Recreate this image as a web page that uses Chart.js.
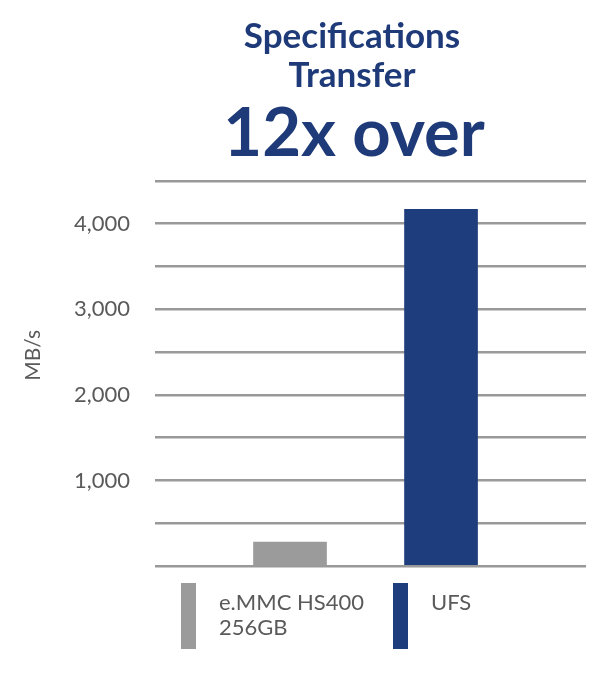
<!DOCTYPE html>
<html>
<head>
<meta charset="utf-8">
<script src="https://cdn.jsdelivr.net/npm/chart.js@4"></script>
<style>
  html, body { margin: 0; padding: 0; background: #ffffff; }
  #wrap { width: 600px; height: 683px; position: relative; }
</style>
</head>
<body>
<div id="wrap"><canvas id="c"></canvas></div>
<script>
// ---- data ----
const categories = ['e.MMC HS400 256GB', 'UFS'];
const legendLines = [['e.MMC HS400', '256GB'], ['UFS']];
const values = [280, 4170];
const labeledTicks = [1000, 2000, 3000, 4000];
const titleLines = ['Specifications', 'Transfer'];
const subtitleText = '12x over';
const yAxisTitle = 'MB/s';

// ---- style ----
const barColors = ['#9b9b9b', '#1e3d7d'];
const navy = '#1e3a78';
const textGray = '#5a5a5a';
const FONT = 'Lato, "Noto Sans", sans-serif';

const decorPlugin = {
  id: 'decor',
  afterDraw(chart) {
    const { ctx, chartArea } = chart;
    ctx.save();
    // titles
    ctx.fillStyle = navy;
    ctx.textAlign = 'center';
    ctx.textBaseline = 'alphabetic';
    ctx.font = 'bold 35px ' + FONT;
    ctx.fillText(titleLines[0], 352, 48);
    ctx.fillText(titleLines[1], 352, 87);
    ctx.font = 'bold 67px ' + FONT;
    ctx.fillText(subtitleText, 354, 156);
    // y axis title
    ctx.save();
    ctx.translate(33, chartArea.top + (chartArea.bottom - chartArea.top) * 0.453);
    ctx.rotate(-Math.PI / 2);
    ctx.font = '21px ' + FONT;
    ctx.fillStyle = textGray;
    ctx.textAlign = 'center';
    ctx.textBaseline = 'middle';
    ctx.fillText(yAxisTitle, 0, 0);
    ctx.restore();
    // legend
    ctx.font = '22px ' + FONT;
    ctx.textBaseline = 'alphabetic';
    ctx.textAlign = 'left';
    categories.forEach((cat, i) => {
      const bx = chartArea.left + 26 + i * 212;
      const by = chartArea.bottom + 17;
      ctx.fillStyle = barColors[i];
      ctx.fillRect(bx, by, 15, 66);
      ctx.fillStyle = textGray;
      legendLines[i].forEach((line, j) => {
        ctx.fillText(line, bx + 38, chartArea.bottom + 44 + j * 25);
      });
    });
    ctx.restore();
  }
};

new Chart(document.getElementById('c'), {
  type: 'bar',
  data: {
    labels: categories,
    datasets: [{
      label: 'MB/s',
      data: values.map((v, i) => ({ x: i, y: v })),
      backgroundColor: barColors,
      borderWidth: 0,
      barThickness: 73
    }]
  },
  options: {
    responsive: true,
    maintainAspectRatio: false,
    animation: false,
    layout: { padding: { left: 0, right: 14, top: 181, bottom: 117 } },
    plugins: {
      legend: { display: false },
      tooltip: { enabled: false },
      title: { display: false },
      subtitle: { display: false }
    },
    scales: {
      x: {
        type: 'linear',
        display: false,
        offset: false,
        min: -0.894,
        max: 1.96
      },
      y: {
        min: 0,
        max: 4500,
        afterFit(scale) { scale.width = 155; },
        border: { display: false },
        grid: { color: '#999999', lineWidth: 2.6, drawTicks: false },
        ticks: {
          stepSize: 500,
          padding: 25,
          color: textGray,
          font: { family: FONT, size: 22 },
          callback: (v) => labeledTicks.includes(v) ? v.toLocaleString('en-US') : ''
        }
      }
    }
  },
  plugins: [decorPlugin]
});
</script>
</body>
</html>
